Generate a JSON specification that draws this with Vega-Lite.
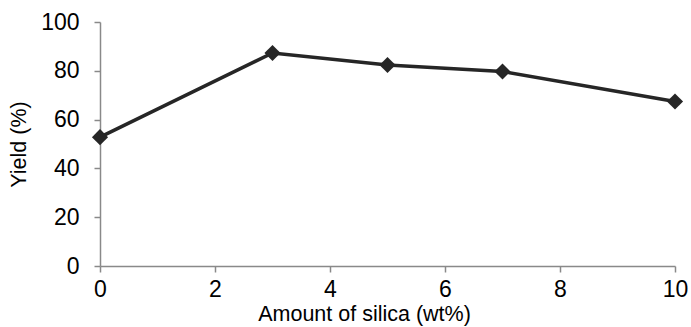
{
  "$schema": "https://vega.github.io/schema/vega-lite/v6.json",
  "width": 575,
  "height": 244,
  "autosize": {"type": "none"},
  "padding": {"left": 100, "top": 22, "right": 16, "bottom": 61},
  "background": "white",
  "config": {
    "view": {"stroke": null},
    "font": "Liberation Sans",
    "axis": {
      "grid": false,
      "domainColor": "#898989",
      "domainWidth": 1.5,
      "tickColor": "#898989",
      "tickWidth": 1.5,
      "tickSize": 6,
      "labelFont": "Liberation Sans",
      "labelFontSize": 23,
      "labelColor": "#000000",
      "titleFont": "Liberation Sans",
      "titleFontSize": 21.5,
      "titleFontWeight": "normal",
      "titleColor": "#000000"
    }
  },
  "data": {
    "values": [
      {"silica": 0, "yield": 52.8},
      {"silica": 3, "yield": 87.3},
      {"silica": 5, "yield": 82.4},
      {"silica": 7, "yield": 79.7},
      {"silica": 10, "yield": 67.4}
    ]
  },
  "layer": [
    {
      "mark": {"type": "line", "color": "#262626", "strokeWidth": 3.5},
      "encoding": {
        "x": {"field": "silica", "type": "quantitative"},
        "y": {"field": "yield", "type": "quantitative"}
      }
    },
    {
      "mark": {"type": "point", "shape": "diamond", "filled": true, "color": "#262626", "size": 260, "opacity": 1},
      "encoding": {
        "x": {
          "field": "silica",
          "type": "quantitative",
          "scale": {"domain": [0, 10], "nice": false},
          "axis": {"values": [0, 2, 4, 6, 8, 10], "format": "d", "title": "Amount of silica (wt%)", "labelPadding": 6, "titlePadding": 2, "titleX": 264, "labelFlush": false}
        },
        "y": {
          "field": "yield",
          "type": "quantitative",
          "scale": {"domain": [0, 100], "nice": false},
          "axis": {"values": [0, 20, 40, 60, 80, 100], "format": "d", "title": "Yield (%)", "labelPadding": 15, "titlePadding": 10}
        }
      }
    }
  ]
}
